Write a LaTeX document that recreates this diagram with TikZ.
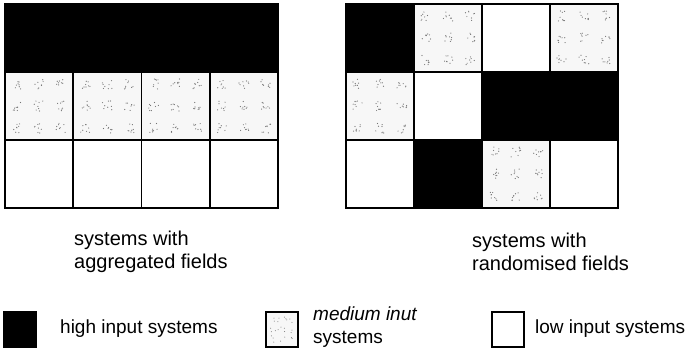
\documentclass[tikz,border=0pt]{standalone}
\usepackage{fontspec}
\setmainfont{Liberation Sans}
\tikzset{
  cell/.style={draw=black, line width=1.6pt},
  high/.style={cell, fill=black},
  low/.style={cell, fill=white},
  med/.style={cell, fill=black!3},
  lbl/.style={font=\fontsize{19}{23}\selectfont, anchor=west, align=left, inner sep=0pt},
  captxt/.style={lbl, font=\fontsize{20}{23}\selectfont},
  dotc/.style={fill=black!55},
}
\newcommand\stip[2]{%
  \foreach \i in {0,1,2}{\foreach \j in {0,1,2}{\foreach \k in {1,...,8}{%
    \pgfmathsetmacro\dx{#1+12+22*\i+5*rand}%
    \pgfmathsetmacro\dy{#2+12+22*\j+5*rand}%
    \fill[dotc] (\dx,\dy) circle[radius=0.6pt];}}}}
\begin{document}
\begin{tikzpicture}[x=1pt,y=-1pt]
\pgfmathsetseed{7}
\useasboundingbox (0,0) rectangle (686,349);
% left grid
\foreach \c in {0,1,2,3}{
  \pgfmathsetmacro\xa{5+68.25*\c}
  \draw[high] (\xa,4) rectangle ++(68.25,68);
  \draw[med]  (\xa,72) rectangle ++(68.25,68);
  \stip{\xa}{72}
  \draw[low]  (\xa,140) rectangle ++(68.25,68);
}
% right grid
\draw[high] (346,4) rectangle ++(68,68);
\draw[med]  (414,4) rectangle ++(68,68); \stip{414}{4}
\draw[low]  (482,4) rectangle ++(68,68);
\draw[med]  (550,4) rectangle ++(68,68); \stip{550}{4}
\draw[med]  (346,72) rectangle ++(68,68); \stip{346}{72}
\draw[low]  (414,72) rectangle ++(68,68);
\draw[high] (482,72) rectangle ++(68,68);
\draw[high] (550,72) rectangle ++(68,68);
\draw[low]  (346,140) rectangle ++(68,68);
\draw[high] (414,140) rectangle ++(68,68);
\draw[med]  (482,140) rectangle ++(68,68); \stip{482}{140}
\draw[low]  (550,140) rectangle ++(68,68);
% captions
\node[captxt] (capA) at (74,252) {systems with\\aggregated fields};
\node[captxt] (capB) at (472,252) {systems with\\randomised fields};
% legend
\draw[high, line width=1.2pt] (4,312) rectangle (36,347);
\node[lbl] (lh) at (60,329) {high input systems};
\draw[med, line width=1.2pt] (266,312) rectangle (298,347);
\foreach \k in {1,...,25}{
  \pgfmathsetmacro\dx{270+24*rnd}\pgfmathsetmacro\dy{316+27*rnd}
  \fill[dotc] (\dx,\dy) circle[radius=0.5pt];}
\node[lbl] (lm) at (313,327) {\itshape medium inut\\systems};
\draw[low, line width=1.2pt] (492,312) rectangle (524,347);
\node[lbl] (ll) at (535,329) {low input systems};
\end{tikzpicture}
\end{document}
